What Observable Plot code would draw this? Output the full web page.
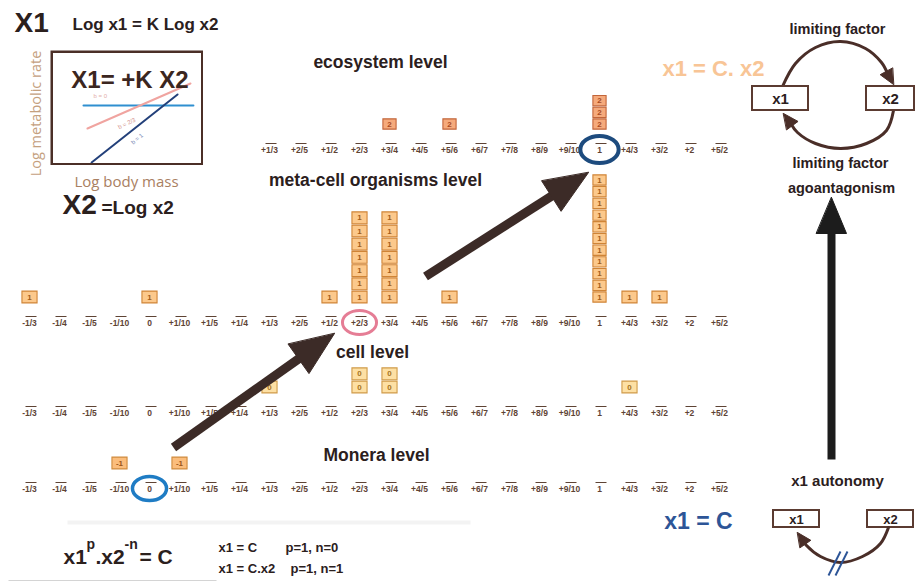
<!DOCTYPE html>
<html><head><meta charset="utf-8">
<script src="https://cdn.jsdelivr.net/npm/d3@7"></script>
<script src="https://cdn.jsdelivr.net/npm/@observablehq/plot@0.6"></script>
<style>
html,body{margin:0;padding:0;background:#fff;}
#chart{position:relative;width:915px;height:587px;overflow:hidden;background:#fff;}
#chart svg{position:absolute;}
</style></head><body><div id="chart"></div>
<script>
// ---------------- data ----------------
const categories = ["-1/3","-1/4","-1/5","-1/10","0","+1/10","+1/5","+1/4","+1/3","+2/5","+1/2","+2/3","+3/4","+4/5","+5/6","+6/7","+7/8","+8/9","+9/10","1","+4/3","+3/2","+2","+5/2"];
const levels = ["ecosystem level","meta-cell organisms level","cell level","Monera level"];
const levelFirstTick = ["+1/3","-1/3","-1/3","-1/3"];
const boxLevel = ["ecosystem level","ecosystem level","ecosystem level",
  "meta-cell organisms level","meta-cell organisms level","meta-cell organisms level","meta-cell organisms level","meta-cell organisms level","meta-cell organisms level","meta-cell organisms level","meta-cell organisms level","meta-cell organisms level",
  "cell level","cell level","cell level","cell level",
  "Monera level","Monera level"];
const boxCategory = ["+3/4","+5/6","1", "-1/3","0","+1/2","+2/3","+3/4","+5/6","1","+4/3","+3/2", "+1/3","+2/3","+3/4","+4/3", "-1/10","+1/10"];
const boxCount = [1,1,3, 1,1,1,7,7,1,11,1,1, 1,2,2,1, 1,1];
const boxValue = ["2","2","2", "1","1","1","1","1","1","1","1","1", "0","0","0","0", "-1","-1"];
const highlightLevel = ["ecosystem level","meta-cell organisms level","Monera level"];
const highlightCategory = ["1","+2/3","0"];
const allometrySlope = ["b = 0","b = 2/3","b = 1"];
const allometryLogMass = [[2.04, 9.52],[2.31, 9.32],[2.59, 8.44]];
const allometryLogRate = [[5.23, 5.23],[3.12, 7.25],[0.0, 6.24]];

// ---------------- layout & style ----------------
const FONT = "'Liberation Sans', Arial, sans-serif";
const INK = "#2b201d";
const TICK = "#5e4334";
const rowY = {"ecosystem level":150,"meta-cell organisms level":323,"cell level":413,"Monera level":489};
const levelLabelPos = {"ecosystem level":[380,62],"meta-cell organisms level":[375,180],"cell level":[372,352],"Monera level":[376,455]};
const boxStyle = {
  "ecosystem level":{fill:"#f5aa7c",stroke:"#c2653a",text:"#a84a22"},
  "meta-cell organisms level":{fill:"#fcc98c",stroke:"#cf8436",text:"#a35c1a"},
  "cell level":{fill:"#fde0a4",stroke:"#d09a48",text:"#a87420"},
  "Monera level":{fill:"#fbbd7c",stroke:"#cf8a3c",text:"#9a5418"}
};
const highlightStyle = {
  "ecosystem level":{stroke:"#1d4b7e",r:13.5,w:4},
  "meta-cell organisms level":{stroke:"#e57d95",r:12,w:3},
  "Monera level":{stroke:"#1f7cc4",r:12,w:3.5}
};

// custom symbols
const boxSymbol = {draw(ctx,size){const r=Math.sqrt(size/Math.PI);const w=r*1.28;ctx.rect(-w,-r,2*w,2*r);}};
const dashSymbol = {draw(ctx,size){const r=Math.sqrt(size/Math.PI);ctx.moveTo(-r,0);ctx.lineTo(r,0);}};
const ellipseSymbol = {draw(ctx,size){const r=Math.sqrt(size/Math.PI);const rx=r*1.42,ry=r,k=0.5523;
  ctx.moveTo(rx,0);ctx.bezierCurveTo(rx,ry*k,rx*k,ry,0,ry);ctx.bezierCurveTo(-rx*k,ry,-rx,ry*k,-rx,0);
  ctx.bezierCurveTo(-rx,-ry*k,-rx*k,-ry,0,-ry);ctx.bezierCurveTo(rx*k,-ry,rx,-ry*k,rx,0);ctx.closePath();}};

// ---------------- derived tables ----------------
const ticks = [];
levels.forEach((lv,i)=>{
  const start = categories.indexOf(levelFirstTick[i]);
  categories.slice(start).forEach(c=>ticks.push({level:lv,cat:c,y:rowY[lv]}));
});
const boxes = [];
boxLevel.forEach((lv,i)=>{
  const pitch = (lv==="ecosystem level" || boxCount[i]>8) ? 11.7 : 13.2;
  for(let k=0;k<boxCount[i];k++) boxes.push({level:lv,cat:boxCategory[i],value:boxValue[i],y:rowY[lv]-26.5-k*pitch,pitch});
});
const boxMarks = Array.from(d3.group(boxes,d=>d.pitch),([pitch,g])=>Plot.dot(g,{x:"cat",y:"y",symbol:boxSymbol,r:(pitch-1.4)/2,
  fill:d=>boxStyle[d.level].fill,stroke:d=>boxStyle[d.level].stroke,strokeWidth:1.1}));
const highlights = highlightLevel.map((lv,i)=>({level:lv,cat:highlightCategory[i]}));
const highlightMarks = highlights.map(h=>Plot.dot([h],{x:"cat",y:d=>rowY[d.level]-1,symbol:ellipseSymbol,
  r:highlightStyle[h.level].r,stroke:highlightStyle[h.level].stroke,strokeWidth:highlightStyle[h.level].w,fill:"none"}));

// ---------------- main data plot ----------------
const main = Plot.plot({
  width:915,height:587,margin:0,
  style:{background:"transparent"},
  x:{type:"point",domain:categories,range:[18,730],padding:0,axis:null},
  y:{type:"linear",domain:[0,587],range:[0,587],axis:null},
  color:{type:"identity"},
  marks:[
    Plot.dot(ticks,{x:"cat",y:d=>d.y-7,symbol:dashSymbol,r:5.5,dx:1.5,stroke:TICK,strokeWidth:1,fill:"none"}),
    Plot.text(ticks,{x:"cat",y:"y",text:"cat",fontSize:8.5,fontWeight:"bold",fontFamily:FONT,fill:TICK}),
    ...boxMarks,
    Plot.text(boxes,{x:"cat",y:"y",text:"value",fontSize:8,fontWeight:"bold",fontFamily:FONT,fill:d=>boxStyle[d.level].text}),
    ...highlightMarks
  ]
});
main.style.left="0px";main.style.top="0px";

// ---------------- annotation layer ----------------
function txt(t,x,y,o={}){return Plot.text([{t,x,y}],{x:"x",y:"y",text:"t",fontFamily:FONT,fontWeight:"bold",fill:INK,fontSize:14,...o});}
function headPts(tx,ty,ux,uy,hl,hw,id){
  const bx=tx-ux*hl,by=ty-uy*hl,px=-uy,py=ux;
  return [{x:tx,y:ty,id},{x:bx+px*hw/2,y:by+py*hw/2,id},{x:bx-px*hw/2,y:by-py*hw/2,id}];
}
function arrow(a){
  const dx=a.x2-a.x1,dy=a.y2-a.y1,L=Math.hypot(dx,dy),ux=dx/L,uy=dy/L;
  const shaft={x1:a.x1,y1:a.y1,x2:a.x2-ux*(a.hl-2),y2:a.y2-uy*(a.hl-2)};
  return [Plot.link([shaft],{x1:"x1",y1:"y1",x2:"x2",y2:"y2",stroke:a.color,strokeWidth:a.w,strokeLinecap:"butt"}),
    Plot.line(headPts(a.x2,a.y2,ux,uy,a.hl,a.hw,"h"),{x:"x",y:"y",z:"id",fill:a.color,stroke:a.color,strokeWidth:1,curve:"linear-closed"})];
}
function curved(pts,tip,color,hl,hw){
  const last=pts[pts.length-1];const dx=tip[0]-last[0],dy=tip[1]-last[1],L=Math.hypot(dx,dy);
  const ux=dx/L,uy=dy/L;
  const all=pts.map(p=>({x:p[0],y:p[1]})).concat([{x:tip[0]-ux*hl*0.8,y:tip[1]-uy*hl*0.8}]);
  return [Plot.line(all,{x:"x",y:"y",curve:"catmull-rom",stroke:color,strokeWidth:3,fill:"none"}),
    Plot.line(headPts(tip[0],tip[1],ux,uy,hl,hw,"h"),{x:"x",y:"y",z:"id",fill:color,stroke:color,strokeWidth:1,curve:"linear-closed"})];
}
const BROWN="#3c2b27", BOXINK="#5b3b31";
const rects=[{x1:752,y1:86,x2:808,y2:110},{x1:866,y1:86,x2:914,y2:110},{x1:773,y1:510,x2:819,y2:527},{x1:867,y1:510,x2:913,y2:527}];

const ann = Plot.plot({
  width:915,height:587,margin:0,
  style:{background:"transparent"},
  x:{type:"identity",axis:null},y:{type:"identity",axis:null},
  marks:[
    Plot.link([{x1:67,y1:522,x2:470,y2:522}],{x1:"x1",y1:"y1",x2:"x2",y2:"y2",stroke:"#f3f3f3",strokeWidth:4}),
    Plot.link([{x1:8,y1:580,x2:216,y2:580}],{x1:"x1",y1:"y1",x2:"x2",y2:"y2",stroke:"#d4d4d4",strokeWidth:1.2}),
    // level labels
    Plot.text(levels,{x:d=>levelLabelPos[d][0],y:d=>levelLabelPos[d][1],text:d=>d,fontFamily:FONT,fontWeight:"bold",fontSize:17.5,fill:INK}),
    // top-left titles
    txt("X1",14,23,{fontSize:28,textAnchor:"start"}),
    txt("Log x1 = K Log x2",72,24,{fontSize:17,textAnchor:"start"}),
    txt("X2",62,205,{fontSize:28,textAnchor:"start"}),
    txt("=Log x2",101,207,{fontSize:19,textAnchor:"start"}),
    txt("Log metabolic rate",36,113,{fontSize:14.5,fontWeight:"normal",fontFamily:"'Open Sans', sans-serif",fill:"#c4a07e",rotate:-90}),
    txt("Log body mass",126,182,{fontSize:15,fontWeight:"normal",fontFamily:"'Open Sans', sans-serif",fill:"#a98062"}),
    // right top
    txt("x1 = C. x2",713,68,{fontSize:22,fill:"#f8c596"}),
    txt("limiting factor",837,29,{fontSize:14.5}),
    ...curved([[782,86],[795,63],[815,47],[840,41],[865,48],[881,62]],[893,84],"#4a2e28",15,14),
    ...curved([[893,110],[886,130],[866,143],[840,148],[815,143],[797,132]],[783,113],"#4a2e28",15,14),
    Plot.rect(rects,{x1:"x1",y1:"y1",x2:"x2",y2:"y2",fill:"white",stroke:BOXINK,strokeWidth:2}),
    txt("x1",780,98.5,{fontSize:15}),
    txt("x2",890,98.5,{fontSize:15}),
    txt("limiting factor",840,163,{fontSize:14.5}),
    txt("agoantagonism",841,188,{fontSize:14.5}),
    // arrows
    ...arrow({x1:173,y1:447,x2:334,y2:333,w:9,hl:44,hw:36,color:BROWN}),
    ...arrow({x1:425,y1:276,x2:588,y2:172,w:9,hl:44,hw:36,color:BROWN}),
    ...arrow({x1:831,y1:459,x2:831,y2:197,w:8,hl:36,hw:30,color:"#1c1c1c"}),
    // bottom right
    txt("x1 autonomy",837,481,{fontSize:15}),
    txt("x1 = C",698,521,{fontSize:23,fill:"#2d5597"}),
    ...curved([[888,527],[880,543],[862,556],[840,562],[820,556],[806,545]],[797,532],"#4a2e28",14,13),
    txt("x1",796,519,{fontSize:13}),
    txt("x2",890,519,{fontSize:13}),
    Plot.link([{x1:828,y1:575,x2:840,y2:551},{x1:835,y1:575,x2:847,y2:551}],{x1:"x1",y1:"y1",x2:"x2",y2:"y2",stroke:"#2d5597",strokeWidth:2}),
    // bottom-left formula
    txt("x1",63,557,{fontSize:21,textAnchor:"start"}),
    txt("p",86,544,{fontSize:14,textAnchor:"start"}),
    txt(".x2",95,557,{fontSize:21,textAnchor:"start"}),
    txt("-n",124,544,{fontSize:14,textAnchor:"start"}),
    txt("= C",139,557,{fontSize:21,textAnchor:"start"}),
    txt("x1 = C",218,547,{fontSize:13,textAnchor:"start"}),
    txt("p=1, n=0",285,547,{fontSize:13,textAnchor:"start"}),
    txt("x1 = C.x2",218,568,{fontSize:13,textAnchor:"start"}),
    txt("p=1, n=1",290,568,{fontSize:13,textAnchor:"start"})
  ]
});
ann.style.left="0px";ann.style.top="0px";

// ---------------- inset allometry plot ----------------
const allometry = [];
allometrySlope.forEach((b,i)=>allometryLogMass[i].forEach((m,j)=>allometry.push({b,mass:m,rate:allometryLogRate[i][j]})));
const slopeColor = {"b = 0":"#2f8fd0","b = 2/3":"#f0a4a0","b = 1":"#23407a"};
const inset = Plot.plot({
  width:153,height:115,margin:0,
  style:{background:"transparent"},
  x:{domain:[0,10],range:[3,150],axis:null},
  y:{domain:[0,10],range:[112,3],axis:null},
  color:{type:"identity"},
  marks:[
    Plot.line(allometry,{x:"mass",y:"rate",z:"b",stroke:d=>slopeColor[d.b],strokeWidth:2}),
    Plot.text(["b = 0"],{frameAnchor:"top-left",dx:43,dy:43,text:d=>d,fontSize:6,fill:"#e3aea8",fontFamily:FONT}),
    Plot.text(["b = 2/3"],{frameAnchor:"top-left",dx:67,dy:75,text:d=>d,fontSize:6,fill:"#d38f88",rotate:-26,fontFamily:FONT}),
    Plot.text(["b = 1"],{frameAnchor:"top-left",dx:80,dy:91,text:d=>d,fontSize:6,fill:"#7d8db8",rotate:-40,fontFamily:FONT}),
    Plot.text(["X1= +K X2"],{frameAnchor:"top",dx:3,dy:20,text:d=>d,fontSize:24,fontWeight:"bold",fill:"#3b2620",fontFamily:FONT}),
    Plot.frame({stroke:"#4b2f27",strokeWidth:2.5,inset:1.25})
  ]
});
inset.style.left="50px";inset.style.top="50px";

const chart=document.getElementById("chart");
chart.append(main,ann,inset);
</script></body></html>
